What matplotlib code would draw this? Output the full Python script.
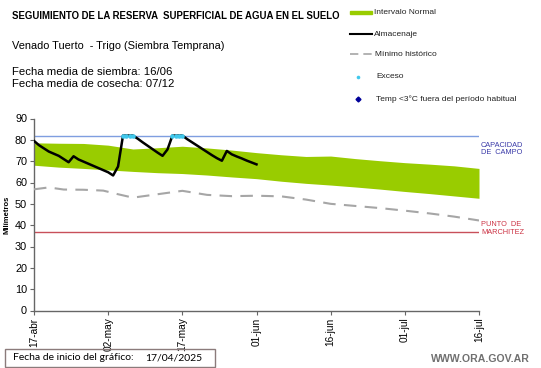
import numpy as np
import matplotlib
matplotlib.use('Agg')
import matplotlib.pyplot as plt
from matplotlib.lines import Line2D
from matplotlib.patches import Rectangle

plt.rcParams['font.family'] = ['Liberation Sans', 'DejaVu Sans']

W, H = 541, 368

# eje x en dias desde 17-abr
tick_days = [0, 15, 30, 45, 60, 75, 90]
tick_labels = ['17-abr', '02-may', '17-may', '01-jun', '16-jun', '01-jul', '16-jul']

# intervalo normal
band_days = [0, 5, 10, 15, 20, 25, 30, 35, 40, 45, 50, 55, 60, 65, 70, 75, 80, 85, 90]
band_upper = [78.6, 78.4, 78.3, 77.5, 75.7, 76.3, 77.0, 76.2, 75.2, 74.0, 73.0, 72.2,
              72.4, 71.2, 70.2, 69.3, 68.6, 67.8, 66.6]
band_lower = [68.1, 67.2, 66.6, 65.9, 65.2, 64.6, 64.2, 63.5, 62.6, 61.8, 60.6, 59.6,
              58.8, 57.9, 56.9, 55.8, 54.8, 53.7, 52.6]

# minimo historico
min_days = [0, 3, 6, 10, 14, 17, 20, 25, 30, 35, 40, 45, 50, 55, 60, 65, 70, 75, 80, 85, 90]
min_vals = [56.8, 57.7, 56.7, 56.6, 56.2, 54.5, 52.9, 54.5, 56.1, 54.2, 53.6, 53.8,
            53.5, 52.0, 50.0, 49.0, 48.0, 46.8, 45.5, 44.0, 42.2]

# almacenaje diario
alm_vals = [79.5, 77.5, 76.0, 74.5, 73.5, 72.5, 71.0, 69.5, 72.3, 70.8,
            69.8, 68.8, 67.8, 66.8, 65.8, 64.8, 63.3, 67.5, 82.0, 82.0,
            82.0, 80.5, 78.8, 77.2, 75.6, 74.0, 72.5, 75.5, 82.0, 82.0,
            82.0, 80.3, 78.8, 77.3, 75.8, 74.3, 72.8, 71.4, 70.2, 74.8,
            73.2, 72.2, 71.3, 70.3, 69.4, 68.5]
alm_days = list(range(len(alm_vals)))

# exceso
exc_days = [18, 18.7, 19.4, 20, 28, 28.7, 29.4, 30]
exc_vals = [82.0] * len(exc_days)

capacidad = 82.0
marchitez = 37.0


def fx(px):
    return px / W


def fy(py):
    return 1 - py / H


fig = plt.figure(figsize=(W / 100, H / 100), dpi=100)
ax = fig.add_axes([fx(34), fy(310.5), fx(479) - fx(34), fy(118.5) - fy(310.5)])

ax.fill_between(band_days, band_lower, band_upper, color='#99cc00', lw=0, zorder=1)
ax.axhline(capacidad, color='#7f9ee0', lw=1, zorder=2)
ax.axhline(marchitez, color='#c8505a', lw=1, zorder=2)
ax.plot(min_days, min_vals, color='#a6a6a6', lw=1.5, dashes=(6, 4), zorder=3)
ax.plot(alm_days, alm_vals, color='black', lw=1.8, zorder=4)
ax.plot(exc_days, exc_vals, ls='none', marker='o', ms=3.3, mew=0, color='#40c8ec', zorder=5)

ax.set_xlim(0, 90)
ax.set_ylim(0, 90)
ax.set_xticks(tick_days)
ax.set_xticklabels(tick_labels, rotation=90, fontsize=7.3)
ax.set_yticks(range(0, 91, 10))
ax.tick_params(axis='y', labelsize=7.8, length=3, width=0.8, color='#666666', pad=2)
ax.tick_params(axis='x', length=3, width=0.8, color='#666666', pad=2)
for s in ['top', 'right']:
    ax.spines[s].set_visible(False)
for s in ['left', 'bottom']:
    ax.spines[s].set_color('#666666')
    ax.spines[s].set_linewidth(1)
ax.set_ylabel('Milímetros', fontsize=5.5, fontweight='bold')
ax.yaxis.set_label_coords(-0.052, 0.5)

# textos de cabecera
fig.text(fx(12), fy(16), 'SEGUIMIENTO DE LA RESERVA  SUPERFICIAL DE AGUA EN EL SUELO',
         fontsize=6.95, fontweight='bold', va='center')
fig.text(fx(12), fy(46), 'Venado Tuerto  - Trigo (Siembra Temprana)', fontsize=7.9, va='center')
fig.text(fx(12), fy(72), 'Fecha media de siembra: 16/06', fontsize=8.2, va='center')
fig.text(fx(12), fy(84), 'Fecha media de cosecha: 07/12', fontsize=8.2, va='center')

# leyenda manual
fig.patches.append(Rectangle((fx(350), fy(13.5)), fx(22), fy(10.5) - fy(13.5),
                             transform=fig.transFigure, color='#99cc00'))
fig.lines.append(Line2D([fx(350), fx(372)], [fy(34), fy(34)], transform=fig.transFigure,
                        color='black', lw=1.5))
fig.lines.append(Line2D([fx(350), fx(372)], [fy(54), fy(54)], transform=fig.transFigure,
                        color='#a6a6a6', lw=1.2, dashes=(5, 3)))
fig.lines.append(Line2D([fx(358)], [fy(77)], transform=fig.transFigure, ls='none',
                        marker='o', ms=2.6, mew=0, color='#40c8ec'))
fig.lines.append(Line2D([fx(358)], [fy(99)], transform=fig.transFigure, ls='none',
                        marker='D', ms=2.5, color='#000099'))
leg_items = [(12, 'Intervalo Normal', 374), (34, 'Almacenaje', 374),
             (54, 'Mínimo histórico', 375), (77, 'Exceso', 376),
             (99, 'Temp <3°C fuera del período habitual', 376)]
for py, txt, px in leg_items:
    fig.text(fx(px), fy(py), txt, fontsize=6, va='center', color='#222222')

# etiquetas a la derecha
fig.text(fx(481), fy(149), 'CAPACIDAD\nDE  CAMPO', fontsize=5.3, color='#3a3aa8',
         va='center', linespacing=1.15)
fig.text(fx(481), fy(228.5), 'PUNTO  DE\nMARCHITEZ', fontsize=5.3, color='#cc3344',
         va='center', linespacing=1.15)

# pie
fig.patches.append(Rectangle((fx(5), fy(367)), fx(210), fy(349) - fy(367),
                             transform=fig.transFigure, fill=False,
                             edgecolor='#8b7b7b', lw=1))
fig.text(fx(13), fy(358), 'Fecha de inicio del gráfico:', fontsize=7.5,
         family=['Lato', 'DejaVu Sans'], va='center')
fig.text(fx(145), fy(358), '17/04/2025', fontsize=7.5,
         family=['Lato', 'DejaVu Sans'], va='center')
fig.text(fx(530), fy(359), 'WWW.ORA.GOV.AR', fontsize=7.6, color='#707070',
         fontweight='bold', ha='right', va='center')

fig.savefig('out.png', dpi=100)
